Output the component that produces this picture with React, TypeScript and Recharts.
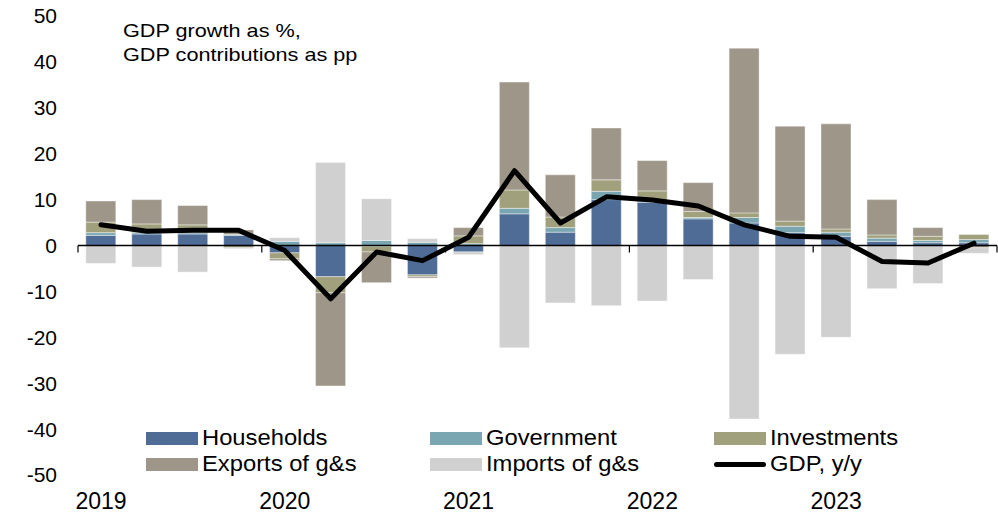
import {
  ComposedChart, Bar, Line, XAxis, YAxis, ReferenceLine, Legend,
} from "recharts";

const QUARTERS = [
  "2019 Q1", "2019 Q2", "2019 Q3", "2019 Q4",
  "2020 Q1", "2020 Q2", "2020 Q3", "2020 Q4",
  "2021 Q1", "2021 Q2", "2021 Q3", "2021 Q4",
  "2022 Q1", "2022 Q2", "2022 Q3", "2022 Q4",
  "2023 Q1", "2023 Q2", "2023 Q3", "2023 Q4",
];

// contributions, pp
const households = [2.2, 2.5, 2.5, 2.2, -1.6, -6.8, -0.2, -6.4, -1.4, 6.9, 2.9, 10.0, 9.4, 5.8, 4.9, 2.8, 2.0, 0.9, 0.6, 0.6];
const government = [0.6, 0.3, 0.3, 0.2, 0.9, 0.6, 1.1, 0.7, 0.4, 1.2, 1.0, 1.8, 0.3, 0.3, 1.2, 1.4, 0.9, 0.7, 0.5, 0.7];
const investments = [2.3, 1.9, 1.7, -0.5, -1.3, -3.5, -1.2, -0.4, 1.7, 4.0, 2.3, 2.5, 2.2, 1.3, 1.0, 1.1, 0.7, 0.7, 0.9, 1.1];
const exportsGs = [4.6, 5.3, 4.2, 1.0, -0.4, -20.3, -6.7, -0.3, 1.8, 23.5, 9.2, 11.3, 6.6, 6.3, 35.9, 20.7, 22.9, 7.7, 1.9, -0.5];
const importsGs = [-3.9, -4.7, -5.8, -0.2, 0.8, 17.5, 9.1, 0.8, -0.6, -22.3, -12.5, -13.1, -12.1, -7.4, -37.8, -23.7, -20.0, -9.4, -8.3, -1.2];
// GDP growth, % y/y
const gdp = [4.5, 3.1, 3.3, 3.3, -1.1, -11.6, -1.4, -3.3, 1.8, 16.3, 4.9, 10.6, 9.9, 8.6, 4.5, 2.0, 1.8, -3.5, -3.8, 0.5];

const Y_TICKS = [50, 40, 30, 20, 10, 0, -10, -20, -30, -40, -50];

const data = QUARTERS.map((q, i) => ({
  q,
  households: households[i],
  government: government[i],
  investments: investments[i],
  exports: exportsGs[i],
  imports: importsGs[i],
  gdp: gdp[i],
}));

const SERIES = [
  { key: "households", label: "Households", color: "#4F6C96", type: "bar" },
  { key: "government", label: "Government", color: "#7AA6B2", type: "bar" },
  { key: "investments", label: "Investments", color: "#A0A07C", type: "bar" },
  { key: "exports", label: "Exports of g&s", color: "#9E9789", type: "bar" },
  { key: "imports", label: "Imports of g&s", color: "#D0D0D0", type: "bar" },
  { key: "gdp", label: "GDP, y/y", color: "#000000", type: "line" },
];

const W = 998;
const H = 520;
const TOP = 16;
const BOTTOM = 45;
const LEFT = 78;
const RIGHT = 1;
const PLOT_W = W - LEFT - RIGHT;
const ZERO_Y = TOP + (H - TOP - BOTTOM) / 2;
const FONT = "'Liberation Sans', Arial, sans-serif";

function YearTick(props: any) {
  const { x, y, payload, index } = props;
  const [yr, q] = String(payload.value).split(" ");
  const bw = PLOT_W / QUARTERS.length;
  return (
    <g>
      {q === "Q1" && (
        <>
          <text x={x} y={y + 34} textAnchor="middle" fontSize={23} fontFamily={FONT} fill="#000">
            {yr}
          </text>
          <line x1={x - bw / 2} x2={x - bw / 2} y1={ZERO_Y} y2={ZERO_Y + 7} stroke="#000" strokeWidth={1.2} />
        </>
      )}
      {index === QUARTERS.length - 1 && (
        <line x1={x + bw / 2} x2={x + bw / 2} y1={ZERO_Y} y2={ZERO_Y + 7} stroke="#000" strokeWidth={1.2} />
      )}
    </g>
  );
}

function LegendBox() {
  return (
    <div style={{ display: "grid", gridTemplateColumns: "repeat(3, 284px)", marginLeft: 146, fontFamily: FONT }}>
      {SERIES.map((s) => (
        <div key={s.key} style={{ display: "flex", alignItems: "center", height: 26 }}>
          {s.type === "line" ? (
            <span style={{ width: 52, height: 5, background: s.color, borderRadius: 3 }} />
          ) : (
            <span style={{ width: 52, height: 13, background: s.color }} />
          )}
          <span
            style={{
              marginLeft: 4, fontSize: 22, color: "#000", lineHeight: "26px", whiteSpace: "nowrap",
              display: "inline-block", transform: "scaleX(1.08)", transformOrigin: "left center",
            }}
          >
            {s.label}
          </span>
        </div>
      ))}
    </div>
  );
}

export default function App() {
  return (
    <div style={{ position: "absolute", left: 0, top: 0, width: W, height: H, background: "#fff" }}>
      <ComposedChart
        width={W}
        height={H}
        data={data}
        stackOffset="sign"
        barCategoryGap="17%"
        margin={{ top: TOP, right: RIGHT, bottom: 0, left: 0 }}
      >
        <XAxis
          dataKey="q"
          height={BOTTOM}
          axisLine={false}
          tickLine={false}
          tickSize={0}
          tickMargin={0}
          interval={0}
          tick={<YearTick />}
        />
        <YAxis
          width={LEFT}
          domain={[-50, 50]}
          ticks={Y_TICKS}
          axisLine={false}
          tickLine={false}
          tickSize={0}
          tickMargin={21}
          tick={{ fontSize: 21, fill: "#000", fontFamily: FONT }}
        />
        {SERIES.filter((s) => s.type === "bar").map((s) => (
          <Bar
            key={s.key}
            dataKey={s.key}
            name={s.label}
            stackId="c"
            fill={s.color}
            stroke="#ffffff"
            strokeOpacity={0.4}
            strokeWidth={1}
            isAnimationActive={false}
          />
        ))}
        <ReferenceLine y={0} stroke="#000" strokeWidth={1.3} />
        <Line
          dataKey="gdp"
          name="GDP, y/y"
          type="linear"
          stroke="#000"
          strokeWidth={5}
          strokeLinecap="round"
          strokeLinejoin="round"
          dot={false}
          activeDot={false}
          isAnimationActive={false}
        />
        <Legend
          layout="horizontal"
          verticalAlign="middle"
          content={<LegendBox />}
          wrapperStyle={{ left: 0, top: 425, width: W }}
        />
      </ComposedChart>
      <div
        style={{
          position: "absolute", left: 123, top: 19, fontFamily: FONT, fontSize: 19,
          lineHeight: "24px", color: "#000", pointerEvents: "none", whiteSpace: "nowrap",
          transform: "scaleX(1.14)", transformOrigin: "left top",
        }}
      >
        GDP growth as %,<br />GDP contributions as pp
      </div>
    </div>
  );
}
